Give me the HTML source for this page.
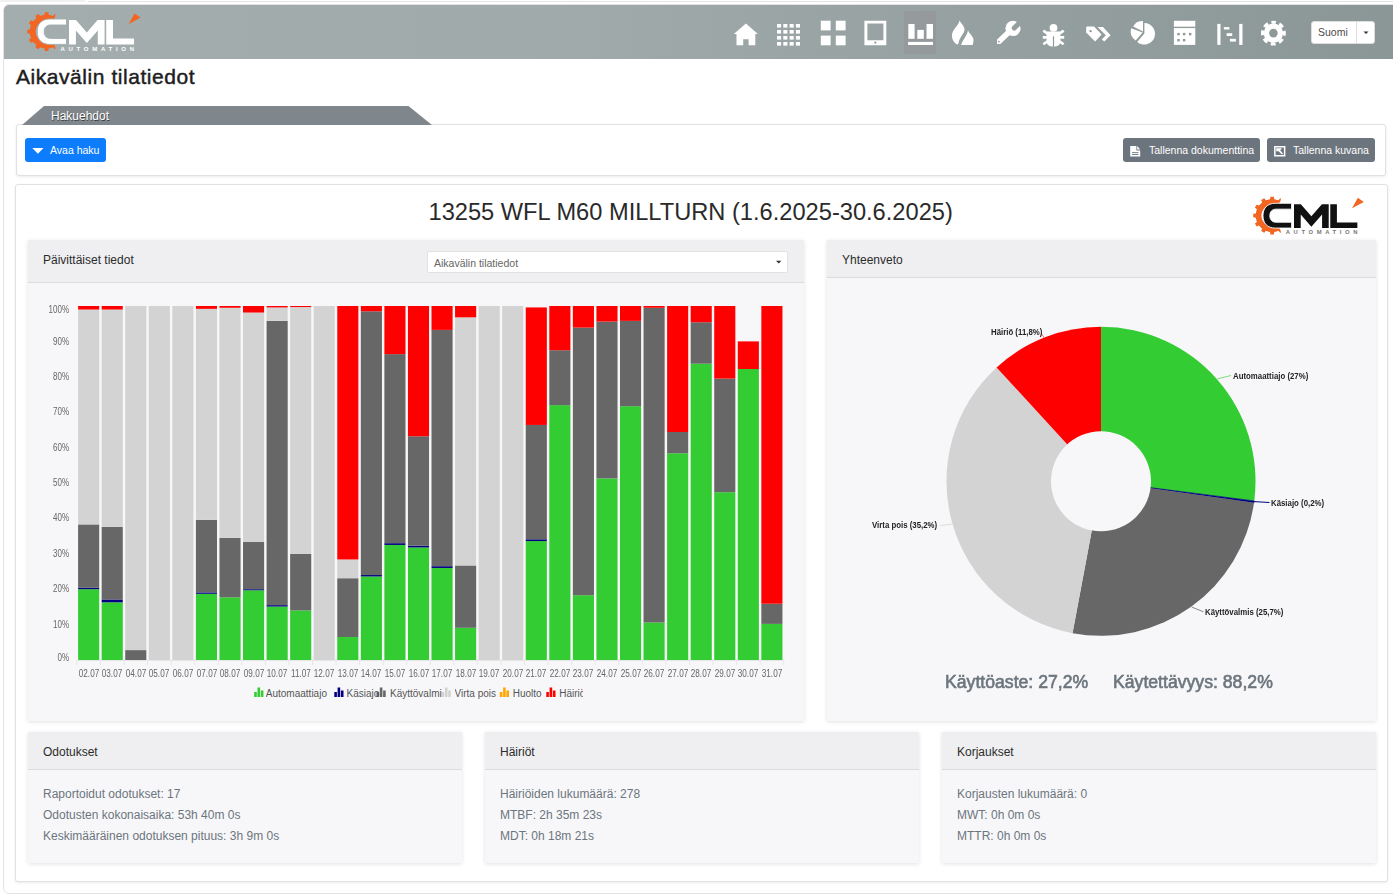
<!DOCTYPE html>
<html><head><meta charset="utf-8"><style>
*{box-sizing:border-box;margin:0;padding:0}
html,body{width:1393px;height:896px;overflow:hidden;background:#fff;font-family:"Liberation Sans",sans-serif;color:#212529}
.abs{position:absolute}
#frame{position:absolute;left:3px;top:4px;width:1400px;height:890px;border:1px solid #e3e3e3;border-radius:6px}
#topl{position:absolute;left:88px;top:1px;width:1305px;height:1px;background:#e4e4e4}
#topg{position:absolute;left:0;top:0;width:85px;height:2px;background:#f1f1f1}
#hdr{position:absolute;left:4px;top:5px;width:1389px;height:54px;background:linear-gradient(90deg,#a3adad 0%,#a0aaaa 40%,#8b9696 100%);border-radius:5px 0 0 0}
#title{position:absolute;left:16px;top:64.5px;font-size:21px;color:#1d1d1f;-webkit-text-stroke:0.45px #1d1d1f;letter-spacing:0.55px;white-space:nowrap}
#tab{position:absolute;z-index:2;left:22px;top:106px;width:410px;height:19px;background:#80878c;clip-path:polygon(22px 0,386.5px 0,410px 19px,0 19px)}
#tabt{position:absolute;z-index:3;left:51px;top:109px;font-size:12px;color:#fff;text-shadow:0.6px 0.6px 0.6px rgba(0,0,0,.55)}
.card{position:absolute;background:#fff;border:1px solid #dfe1e4;border-radius:3px;box-shadow:0 1px 3px rgba(0,0,0,.08)}
.btn{position:absolute;height:24px;border-radius:3px;color:#fff;font-size:10.5px;line-height:24px;white-space:nowrap}
.sub{position:absolute;background:#f7f7f9;box-shadow:0 1px 4px rgba(0,0,0,.12)}
.subh{position:absolute;left:0;top:0;right:0;background:#efeff1;border-bottom:1px solid #dcdcdf}
.subt{position:absolute;font-size:12px;color:#2b2b2b;white-space:nowrap}
.line{position:absolute;font-size:12px;color:#6c757d;white-space:nowrap}
.ylab{position:absolute;width:40px;text-align:right;font-size:10px;color:#666;left:28.7px;transform:scaleX(0.8);transform-origin:100% 50%}
.xlab{position:absolute;font-size:10px;color:#666;width:30px;text-align:center;top:668.3px;transform:scaleX(0.816)}
.plab{position:absolute;font-size:9px;font-weight:bold;color:#222;white-space:nowrap;transform:scaleX(0.87);transform-origin:0 50%}
.leg{position:absolute;font-size:10px;color:#555;white-space:nowrap;top:688px;overflow:hidden}
</style></head><body>
<div id="topg"></div><div id="topl"></div><div id="frame"></div>
<div id="hdr"></div>
<div id="title">Aikavälin tilatiedot</div>
<div id="tab"></div>
<div id="tabt">Hakuehdot</div>
<div class="card" style="left:16px;top:124px;width:1370px;height:52px"></div>
<div class="btn" style="left:25px;top:138px;width:81px;background:#0d7dfd;padding-left:25px">Avaa haku</div>
<div class="btn" style="left:1123px;top:138px;width:137px;background:#6c757d;padding-left:26px">Tallenna dokumenttina</div>
<div class="btn" style="left:1267px;top:138px;width:108px;background:#6c757d;padding-left:26px">Tallenna kuvana</div>
<div class="card" style="left:15px;top:184px;width:1373px;height:698px"></div>
<div class="abs" style="left:428.5px;top:199px;font-size:23.65px;color:#2a2a2a;white-space:nowrap">13255 WFL M60 MILLTURN (1.6.2025-30.6.2025)</div>
<div class="sub" style="left:28px;top:240px;width:776px;height:481px"><div class="subh" style="height:43px"></div></div>
<div class="subt" style="left:43px;top:253px">Päivittäiset tiedot</div>
<div class="abs" style="left:427px;top:251px;width:361px;height:22px;background:#fff;border:1px solid #e2e2e2;border-radius:2px;font-size:10.5px;color:#666;padding:5px 0 0 6px;white-space:nowrap">Aikavälin tilatiedot</div>
<div class="sub" style="left:827px;top:240px;width:549px;height:481px"><div class="subh" style="height:38px"></div></div>
<div class="subt" style="left:842px;top:253px">Yhteenveto</div>
<div class="sub" style="left:28px;top:732px;width:434px;height:131px"><div class="subh" style="height:38px"></div></div>
<div class="subt" style="left:43px;top:745px">Odotukset</div>
<div class="line" style="left:43px;top:787px">Raportoidut odotukset: 17</div>
<div class="line" style="left:43px;top:808px">Odotusten kokonaisaika: 53h 40m 0s</div>
<div class="line" style="left:43px;top:829px">Keskimääräinen odotuksen pituus: 3h 9m 0s</div>
<div class="sub" style="left:485px;top:732px;width:434px;height:131px"><div class="subh" style="height:38px"></div></div>
<div class="subt" style="left:500px;top:745px">Häiriöt</div>
<div class="line" style="left:500px;top:787px">Häiriöiden lukumäärä: 278</div>
<div class="line" style="left:500px;top:808px">MTBF: 2h 35m 23s</div>
<div class="line" style="left:500px;top:829px">MDT: 0h 18m 21s</div>
<div class="sub" style="left:942px;top:732px;width:434px;height:131px"><div class="subh" style="height:38px"></div></div>
<div class="subt" style="left:957px;top:745px">Korjaukset</div>
<div class="line" style="left:957px;top:787px">Korjausten lukumäärä: 0</div>
<div class="line" style="left:957px;top:808px">MWT: 0h 0m 0s</div>
<div class="line" style="left:957px;top:829px">MTTR: 0h 0m 0s</div>
<div class="abs" style="left:1311px;top:21px;width:64px;height:23px;background:#fff;border-radius:3px;border:1px solid #ddd"></div>
<div class="abs" style="left:1356px;top:22px;width:1px;height:21px;background:#ddd"></div>
<div class="abs" style="left:1318px;top:26px;font-size:10.5px;color:#4a4a4a">Suomi</div>
<svg class="abs" style="left:0;top:0" width="1393" height="896">
<path d="M55.05,46.24 L55.67,48.86 L54.78,49.30 L53.07,47.21 L53.07,47.21 L50.97,47.92 L48.81,48.36 L48.81,48.36 L48.37,51.02 L44.83,51.02 L44.39,48.36 L44.39,48.36 L42.23,47.92 L40.13,47.21 L40.13,47.21 L38.42,49.30 L35.36,47.53 L36.31,45.01 L36.31,45.01 L34.65,43.55 L33.19,41.89 L33.19,41.89 L30.67,42.84 L28.90,39.78 L30.99,38.07 L30.99,38.07 L30.28,35.97 L29.84,33.81 L29.84,33.81 L27.18,33.37 L27.18,29.83 L29.84,29.39 L29.84,29.39 L30.28,27.23 L30.99,25.13 L30.99,25.13 L28.90,23.42 L30.67,20.36 L33.19,21.31 L33.19,21.31 L34.65,19.65 L36.31,18.19 L36.31,18.19 L35.36,15.67 L38.42,13.90 L40.13,15.99 L40.13,15.99 L42.23,15.28 L44.39,14.84 L44.39,14.84 L44.83,12.18 L48.37,12.18 L48.81,14.84 L48.81,14.84 L50.97,15.28 L53.07,15.99 L53.07,15.99 L54.78,13.90 L55.67,14.34 L55.05,16.96 L52.10,22.07 L50.36,21.26 L48.51,20.77 L46.60,20.60 L44.69,20.77 L42.84,21.26 L41.10,22.07 L39.53,23.17 L38.17,24.53 L37.07,26.10 L36.26,27.84 L35.77,29.69 L35.60,31.60 L35.77,33.51 L36.26,35.36 L37.07,37.10 L38.17,38.67 L39.53,40.03 L41.10,41.13 L42.84,41.94 L44.69,42.43 L46.60,42.60 L48.51,42.43 L50.36,41.94 L52.10,41.13 Z" fill="#f26522"/>
<path d="M66.5,19 L50,19 C41.5,19 37.2,24 37.2,31.7 C37.2,39.4 41.5,44.4 50,44.4 L66.5,44.4 L66.5,38.4 L50.5,38.4 C46.5,38.4 44.2,35.8 44.2,31.7 C44.2,27.6 46.5,25 50.5,25 L66.5,25 Z" fill="#fff" stroke="#a2acac" stroke-width="0.9"/>
<path d="M69,44.4 L69,19.9 L76,19.9 L86.8,32.4 L97.6,19.9 L104.6,19.9 L104.6,44.4 L97.8,44.4 L97.8,30.5 L86.8,43 L75.9,30.5 L75.9,44.4 Z" fill="#fff"/>
<path d="M106.2,19.9 L113,19.9 L113,38.6 L134,38.6 L134,44.4 L106.2,44.4 Z" fill="#fff"/>
<path d="M128.5,24.2 L134.5,13.4 L140.6,17.6 Z" fill="#f26522"/>
<text x="60.5" y="50.8" font-family="Liberation Sans" font-weight="bold" font-size="6" fill="#fff" textLength="73.5" lengthAdjust="spacing">AUTOMATION</text>
<g transform="translate(1263,203.3) scale(0.975) translate(-37.2,-19)"><path d="M55.05,46.24 L55.67,48.86 L54.78,49.30 L53.07,47.21 L53.07,47.21 L50.97,47.92 L48.81,48.36 L48.81,48.36 L48.37,51.02 L44.83,51.02 L44.39,48.36 L44.39,48.36 L42.23,47.92 L40.13,47.21 L40.13,47.21 L38.42,49.30 L35.36,47.53 L36.31,45.01 L36.31,45.01 L34.65,43.55 L33.19,41.89 L33.19,41.89 L30.67,42.84 L28.90,39.78 L30.99,38.07 L30.99,38.07 L30.28,35.97 L29.84,33.81 L29.84,33.81 L27.18,33.37 L27.18,29.83 L29.84,29.39 L29.84,29.39 L30.28,27.23 L30.99,25.13 L30.99,25.13 L28.90,23.42 L30.67,20.36 L33.19,21.31 L33.19,21.31 L34.65,19.65 L36.31,18.19 L36.31,18.19 L35.36,15.67 L38.42,13.90 L40.13,15.99 L40.13,15.99 L42.23,15.28 L44.39,14.84 L44.39,14.84 L44.83,12.18 L48.37,12.18 L48.81,14.84 L48.81,14.84 L50.97,15.28 L53.07,15.99 L53.07,15.99 L54.78,13.90 L55.67,14.34 L55.05,16.96 L52.10,22.07 L50.36,21.26 L48.51,20.77 L46.60,20.60 L44.69,20.77 L42.84,21.26 L41.10,22.07 L39.53,23.17 L38.17,24.53 L37.07,26.10 L36.26,27.84 L35.77,29.69 L35.60,31.60 L35.77,33.51 L36.26,35.36 L37.07,37.10 L38.17,38.67 L39.53,40.03 L41.10,41.13 L42.84,41.94 L44.69,42.43 L46.60,42.60 L48.51,42.43 L50.36,41.94 L52.10,41.13 Z" fill="#f26522"/>
<path d="M66.5,19 L50,19 C41.5,19 37.2,24 37.2,31.7 C37.2,39.4 41.5,44.4 50,44.4 L66.5,44.4 L66.5,38.4 L50.5,38.4 C46.5,38.4 44.2,35.8 44.2,31.7 C44.2,27.6 46.5,25 50.5,25 L66.5,25 Z" fill="#111" stroke="#fff" stroke-width="0.9"/>
<path d="M69,44.4 L69,19.9 L76,19.9 L86.8,32.4 L97.6,19.9 L104.6,19.9 L104.6,44.4 L97.8,44.4 L97.8,30.5 L86.8,43 L75.9,30.5 L75.9,44.4 Z" fill="#111"/>
<path d="M106.2,19.9 L113,19.9 L113,38.6 L134,38.6 L134,44.4 L106.2,44.4 Z" fill="#111"/>
<path d="M128.5,24.2 L134.5,13.4 L140.6,17.6 Z" fill="#f26522"/>
<text x="60.5" y="50.8" font-family="Liberation Sans" font-weight="bold" font-size="6" fill="#777" textLength="73.5" lengthAdjust="spacing">AUTOMATION</text></g>
<rect x="904" y="11" width="32" height="43" fill="#948f93" opacity="0.4"/>
<path d="M733.8,34 L745.9,23.6 L757.9,34 L755.3,34 L755.3,45.3 L748.6,45.3 L748.6,39.2 L743.2,39.2 L743.2,45.3 L736.5,45.3 L736.5,34 Z" fill="#fff"/>
<rect x="777.0" y="24.0" width="4.1" height="3.6" fill="#fff"/>
<rect x="777.0" y="30.0" width="4.1" height="3.6" fill="#fff"/>
<rect x="777.0" y="36.0" width="4.1" height="3.6" fill="#fff"/>
<rect x="777.0" y="42.0" width="4.1" height="3.6" fill="#fff"/>
<rect x="783.3" y="24.0" width="4.1" height="3.6" fill="#fff"/>
<rect x="783.3" y="30.0" width="4.1" height="3.6" fill="#fff"/>
<rect x="783.3" y="36.0" width="4.1" height="3.6" fill="#fff"/>
<rect x="783.3" y="42.0" width="4.1" height="3.6" fill="#fff"/>
<rect x="789.6" y="24.0" width="4.1" height="3.6" fill="#fff"/>
<rect x="789.6" y="30.0" width="4.1" height="3.6" fill="#fff"/>
<rect x="789.6" y="36.0" width="4.1" height="3.6" fill="#fff"/>
<rect x="789.6" y="42.0" width="4.1" height="3.6" fill="#fff"/>
<rect x="795.9" y="24.0" width="4.1" height="3.6" fill="#fff"/>
<rect x="795.9" y="30.0" width="4.1" height="3.6" fill="#fff"/>
<rect x="795.9" y="36.0" width="4.1" height="3.6" fill="#fff"/>
<rect x="795.9" y="42.0" width="4.1" height="3.6" fill="#fff"/>
<rect x="820.8" y="20.7" width="9.8" height="9.7" fill="#fff"/>
<rect x="835.8" y="20.7" width="9.8" height="9.7" fill="#fff"/>
<rect x="820.8" y="35.6" width="9.8" height="9.7" fill="#fff"/>
<rect x="835.8" y="35.6" width="9.8" height="9.7" fill="#fff"/>
<path d="M864.4,20.7 L886.3,20.7 L886.3,45.3 L864.4,45.3 Z M867.4,23.5 L867.4,40.3 L883.4,40.3 L883.4,23.5 Z" fill="#fff" fill-rule="evenodd"/>
<circle cx="875.4" cy="42.6" r="1.1" fill="#8d9898"/>
<rect x="908.3" y="24" width="6.3" height="14.8" fill="#fff"/><rect x="917.3" y="29.9" width="6.5" height="8.9" fill="#fff"/><rect x="926.5" y="24" width="6.5" height="14.8" fill="#fff"/><rect x="908.1" y="41.9" width="24.9" height="3.1" fill="#fff"/>
<path d="M959.4,20.5 C961,23.5 964.8,26 964.5,30 C964.3,33.5 959.5,37 958.5,43.3 L957.6,44.8 C954,43 951.9,39.5 951.9,35.7 C951.9,29.5 958.8,26 959.4,20.5 Z" fill="#fff"/>
<path d="M968,29.9 C968.5,33.5 973.5,35.5 973.5,40 C973.5,42 973,44 972.6,44.9 L961.1,44.9 C962.5,40 967.6,35 968,29.9 Z" fill="#fff"/>
<mask id="wm"><rect x="990" y="15" width="40" height="35" fill="#fff"/><rect x="1010.6" y="17" width="5" height="13" rx="2.5" fill="#000" transform="rotate(45 1013 29.2)"/><circle cx="998.9" cy="41.6" r="0.95" fill="#000"/></mask>
<g mask="url(#wm)" fill="#fff"><line x1="999" y1="41.6" x2="1010" y2="31" stroke="#fff" stroke-width="5.6" stroke-linecap="round"/><circle cx="1013" cy="28.4" r="7.6"/></g>
<circle cx="1053.5" cy="27.8" r="3.9" fill="#fff"/>
<path d="M1046.6,31.6 L1060.4,31.6 L1060.4,41.5 C1060.4,45 1057.5,46.6 1053.5,46.6 C1049.5,46.6 1046.6,45 1046.6,41.5 Z" fill="#fff"/>
<path d="M1048,34 L1043.3,30.6 M1059,34 L1063.7,30.6 M1042.8,37.4 L1064.2,37.4 M1048,41 L1043.3,44.2 M1059,41 L1063.7,44.2" stroke="#fff" stroke-width="2.6" fill="none"/>
<line x1="1053.5" y1="36.4" x2="1053.5" y2="46.8" stroke="#8d9898" stroke-width="1.2"/>
<path d="M1086.2,27.4 Q1086.2,26.4 1087.2,26.4 L1094,26.6 L1101.6,34.4 L1095.1,41.5 L1086.2,32.6 Z" fill="#fff"/>
<circle cx="1090.6" cy="31.1" r="1.2" fill="#8d9898"/>
<path d="M1097.6,27 L1103,27 L1110.6,35.3 L1104.3,41.6 L1101.8,39.4 L1105.8,35.3 Z" fill="#fff"/>
<path d="M1144.4,23 L1144.4,33.6 L1137.2,42 A10.8,10.8 0 1 0 1144.4,23 Z" fill="#fff"/>
<path d="M1142.6,32.4 L1135.6,40.6 A10.8,10.8 0 0 1 1131.2,28.2 Z" fill="#fff"/>
<path d="M1143,21 L1143,31.6 L1133.2,26.4 A10.8,10.8 0 0 1 1143,21 Z" fill="#fff"/>
<rect x="1173.9" y="20.8" width="21.4" height="5.9" fill="#fff"/>
<path d="M1173.9,28.1 L1195.3,28.1 L1195.3,44.9 L1173.9,44.9 Z" fill="#fff"/>
<rect x="1177.3" y="32.9" width="2.4" height="2.4" fill="#8d9898"/>
<rect x="1182.8999999999999" y="32.9" width="2.4" height="2.4" fill="#8d9898"/>
<rect x="1189.0" y="32.9" width="2.4" height="2.4" fill="#8d9898"/>
<rect x="1177.3" y="39.0" width="2.4" height="2.4" fill="#8d9898"/>
<rect x="1182.8999999999999" y="39.0" width="2.4" height="2.4" fill="#8d9898"/>
<rect x="1217.3" y="23.9" width="3.2" height="21" fill="#fff"/><rect x="1239.2" y="23.9" width="3.3" height="21" fill="#fff"/>
<rect x="1223.8" y="27.1" width="5.6" height="2.4" fill="#fff"/><rect x="1226.6" y="33.2" width="5.6" height="2.8" fill="#fff"/><rect x="1229.9" y="38.8" width="6" height="2.8" fill="#fff"/>
<mask id="gm"><rect x="1255" y="15" width="40" height="40" fill="#fff"/><circle cx="1273.4" cy="33.1" r="4.3" fill="#000"/></mask>
<g mask="url(#gm)"><circle cx="1273.4" cy="33.1" r="9.7" fill="#fff"/><circle cx="1273.4" cy="33.1" r="10.9" fill="none" stroke="#fff" stroke-width="3" stroke-dasharray="4.9 3.66" stroke-dashoffset="2.45" transform="rotate(-90 1273.4 33.1)"/></g>
<path d="M32.3,148 L43.5,148 L37.9,153.8 Z" fill="#fff"/>
<path d="M1130.2,146.1 L1136.4,146.1 L1136.4,150.4 L1140.2,150.4 L1140.2,156.4 L1130.2,156.4 Z M1137.2,146.1 L1140.2,149.4 L1137.2,149.4 Z" fill="#fff"/>
<rect x="1132" y="152.2" width="6.5" height="0.9" fill="#6c757d"/><rect x="1132" y="154" width="6.5" height="0.9" fill="#6c757d"/>
<path d="M1274.1,146.1 L1285.4,146.1 L1285.4,156.4 L1274.1,156.4 Z M1275.6,147.6 L1275.6,154.9 L1283.9,154.9 L1283.9,147.6 Z" fill="#fff" fill-rule="evenodd"/>
<path d="M1276.2,148.3 L1282,148.3 L1280.2,150.3 L1283.2,153.9 L1281.6,154.2 L1278.6,151.2 L1276.2,151.2 Z" fill="#fff"/>
<path d="M776,260.8 L781.4,260.8 L778.7,263.4 Z" fill="#333"/>
<path d="M1363.5,31.6 L1368.5,31.6 L1366,34 Z" fill="#333"/>
<line x1="76.9" y1="660.5" x2="783.6999999999999" y2="660.5" stroke="#e6e6e6" stroke-width="1"/>
<line x1="76.90" y1="660.0" x2="76.90" y2="665.0" stroke="#e6e6e6" stroke-width="1"/>
<line x1="100.46" y1="660.0" x2="100.46" y2="665.0" stroke="#e6e6e6" stroke-width="1"/>
<line x1="124.02" y1="660.0" x2="124.02" y2="665.0" stroke="#e6e6e6" stroke-width="1"/>
<line x1="147.58" y1="660.0" x2="147.58" y2="665.0" stroke="#e6e6e6" stroke-width="1"/>
<line x1="171.14" y1="660.0" x2="171.14" y2="665.0" stroke="#e6e6e6" stroke-width="1"/>
<line x1="194.70" y1="660.0" x2="194.70" y2="665.0" stroke="#e6e6e6" stroke-width="1"/>
<line x1="218.26" y1="660.0" x2="218.26" y2="665.0" stroke="#e6e6e6" stroke-width="1"/>
<line x1="241.82" y1="660.0" x2="241.82" y2="665.0" stroke="#e6e6e6" stroke-width="1"/>
<line x1="265.38" y1="660.0" x2="265.38" y2="665.0" stroke="#e6e6e6" stroke-width="1"/>
<line x1="288.94" y1="660.0" x2="288.94" y2="665.0" stroke="#e6e6e6" stroke-width="1"/>
<line x1="312.50" y1="660.0" x2="312.50" y2="665.0" stroke="#e6e6e6" stroke-width="1"/>
<line x1="336.06" y1="660.0" x2="336.06" y2="665.0" stroke="#e6e6e6" stroke-width="1"/>
<line x1="359.62" y1="660.0" x2="359.62" y2="665.0" stroke="#e6e6e6" stroke-width="1"/>
<line x1="383.18" y1="660.0" x2="383.18" y2="665.0" stroke="#e6e6e6" stroke-width="1"/>
<line x1="406.74" y1="660.0" x2="406.74" y2="665.0" stroke="#e6e6e6" stroke-width="1"/>
<line x1="430.30" y1="660.0" x2="430.30" y2="665.0" stroke="#e6e6e6" stroke-width="1"/>
<line x1="453.86" y1="660.0" x2="453.86" y2="665.0" stroke="#e6e6e6" stroke-width="1"/>
<line x1="477.42" y1="660.0" x2="477.42" y2="665.0" stroke="#e6e6e6" stroke-width="1"/>
<line x1="500.98" y1="660.0" x2="500.98" y2="665.0" stroke="#e6e6e6" stroke-width="1"/>
<line x1="524.54" y1="660.0" x2="524.54" y2="665.0" stroke="#e6e6e6" stroke-width="1"/>
<line x1="548.10" y1="660.0" x2="548.10" y2="665.0" stroke="#e6e6e6" stroke-width="1"/>
<line x1="571.66" y1="660.0" x2="571.66" y2="665.0" stroke="#e6e6e6" stroke-width="1"/>
<line x1="595.22" y1="660.0" x2="595.22" y2="665.0" stroke="#e6e6e6" stroke-width="1"/>
<line x1="618.78" y1="660.0" x2="618.78" y2="665.0" stroke="#e6e6e6" stroke-width="1"/>
<line x1="642.34" y1="660.0" x2="642.34" y2="665.0" stroke="#e6e6e6" stroke-width="1"/>
<line x1="665.90" y1="660.0" x2="665.90" y2="665.0" stroke="#e6e6e6" stroke-width="1"/>
<line x1="689.46" y1="660.0" x2="689.46" y2="665.0" stroke="#e6e6e6" stroke-width="1"/>
<line x1="713.02" y1="660.0" x2="713.02" y2="665.0" stroke="#e6e6e6" stroke-width="1"/>
<line x1="736.58" y1="660.0" x2="736.58" y2="665.0" stroke="#e6e6e6" stroke-width="1"/>
<line x1="760.14" y1="660.0" x2="760.14" y2="665.0" stroke="#e6e6e6" stroke-width="1"/>
<line x1="783.70" y1="660.0" x2="783.70" y2="665.0" stroke="#e6e6e6" stroke-width="1"/>
<rect x="78.10" y="589.20" width="21.11" height="70.80" fill="#33cc33"/>
<rect x="78.10" y="587.78" width="21.11" height="1.42" fill="#000080"/>
<rect x="78.10" y="524.42" width="21.11" height="63.37" fill="#676767"/>
<rect x="78.10" y="309.54" width="21.11" height="214.88" fill="#d3d3d3"/>
<rect x="78.10" y="306.00" width="21.11" height="3.54" fill="#ff0000"/>
<rect x="101.66" y="602.30" width="21.11" height="57.70" fill="#33cc33"/>
<rect x="101.66" y="599.47" width="21.11" height="2.83" fill="#000080"/>
<rect x="101.66" y="526.90" width="21.11" height="72.57" fill="#676767"/>
<rect x="101.66" y="309.54" width="21.11" height="217.36" fill="#d3d3d3"/>
<rect x="101.66" y="306.00" width="21.11" height="3.54" fill="#ff0000"/>
<rect x="125.22" y="650.09" width="21.11" height="9.91" fill="#676767"/>
<rect x="125.22" y="306.00" width="21.11" height="344.09" fill="#d3d3d3"/>
<rect x="148.78" y="306.00" width="21.11" height="354.00" fill="#d3d3d3"/>
<rect x="172.34" y="306.00" width="21.11" height="354.00" fill="#d3d3d3"/>
<rect x="195.90" y="593.80" width="21.11" height="66.20" fill="#33cc33"/>
<rect x="195.90" y="592.39" width="21.11" height="1.42" fill="#000080"/>
<rect x="195.90" y="519.82" width="21.11" height="72.57" fill="#676767"/>
<rect x="195.90" y="308.83" width="21.11" height="210.98" fill="#d3d3d3"/>
<rect x="195.90" y="306.00" width="21.11" height="2.83" fill="#ff0000"/>
<rect x="219.46" y="597.34" width="21.11" height="62.66" fill="#33cc33"/>
<rect x="219.46" y="537.87" width="21.11" height="59.47" fill="#676767"/>
<rect x="219.46" y="307.77" width="21.11" height="230.10" fill="#d3d3d3"/>
<rect x="219.46" y="306.00" width="21.11" height="1.77" fill="#ff0000"/>
<rect x="243.02" y="590.26" width="21.11" height="69.74" fill="#33cc33"/>
<rect x="243.02" y="589.20" width="21.11" height="1.06" fill="#000080"/>
<rect x="243.02" y="541.76" width="21.11" height="47.44" fill="#676767"/>
<rect x="243.02" y="312.55" width="21.11" height="229.21" fill="#d3d3d3"/>
<rect x="243.02" y="306.00" width="21.11" height="6.55" fill="#ff0000"/>
<rect x="266.58" y="606.55" width="21.11" height="53.45" fill="#33cc33"/>
<rect x="266.58" y="605.13" width="21.11" height="1.42" fill="#000080"/>
<rect x="266.58" y="320.87" width="21.11" height="284.26" fill="#676767"/>
<rect x="266.58" y="307.42" width="21.11" height="13.45" fill="#d3d3d3"/>
<rect x="266.58" y="306.00" width="21.11" height="1.42" fill="#ff0000"/>
<rect x="290.14" y="610.44" width="21.11" height="49.56" fill="#33cc33"/>
<rect x="290.14" y="553.80" width="21.11" height="56.64" fill="#676767"/>
<rect x="290.14" y="307.06" width="21.11" height="246.74" fill="#d3d3d3"/>
<rect x="290.14" y="306.00" width="21.11" height="1.06" fill="#ff0000"/>
<rect x="313.70" y="306.00" width="21.11" height="354.00" fill="#d3d3d3"/>
<rect x="337.26" y="636.99" width="21.11" height="23.01" fill="#33cc33"/>
<rect x="337.26" y="578.23" width="21.11" height="58.76" fill="#676767"/>
<rect x="337.26" y="559.46" width="21.11" height="18.76" fill="#d3d3d3"/>
<rect x="337.26" y="306.00" width="21.11" height="253.46" fill="#ff0000"/>
<rect x="360.82" y="576.46" width="21.11" height="83.54" fill="#33cc33"/>
<rect x="360.82" y="575.04" width="21.11" height="1.42" fill="#000080"/>
<rect x="360.82" y="311.31" width="21.11" height="263.73" fill="#676767"/>
<rect x="360.82" y="306.00" width="21.11" height="5.31" fill="#ff0000"/>
<rect x="384.38" y="544.95" width="21.11" height="115.05" fill="#33cc33"/>
<rect x="384.38" y="543.18" width="21.11" height="1.77" fill="#000080"/>
<rect x="384.38" y="354.14" width="21.11" height="189.04" fill="#676767"/>
<rect x="384.38" y="306.00" width="21.11" height="48.14" fill="#ff0000"/>
<rect x="407.94" y="547.43" width="21.11" height="112.57" fill="#33cc33"/>
<rect x="407.94" y="545.66" width="21.11" height="1.77" fill="#000080"/>
<rect x="407.94" y="436.27" width="21.11" height="109.39" fill="#676767"/>
<rect x="407.94" y="306.00" width="21.11" height="130.27" fill="#ff0000"/>
<rect x="431.50" y="567.96" width="21.11" height="92.04" fill="#33cc33"/>
<rect x="431.50" y="566.19" width="21.11" height="1.77" fill="#000080"/>
<rect x="431.50" y="329.90" width="21.11" height="236.29" fill="#676767"/>
<rect x="431.50" y="306.00" width="21.11" height="23.90" fill="#ff0000"/>
<rect x="455.06" y="627.79" width="21.11" height="32.21" fill="#33cc33"/>
<rect x="455.06" y="565.48" width="21.11" height="62.30" fill="#676767"/>
<rect x="455.06" y="317.33" width="21.11" height="248.15" fill="#d3d3d3"/>
<rect x="455.06" y="306.00" width="21.11" height="11.33" fill="#ff0000"/>
<rect x="478.62" y="306.00" width="21.11" height="354.00" fill="#d3d3d3"/>
<rect x="502.18" y="306.00" width="21.11" height="354.00" fill="#d3d3d3"/>
<rect x="525.74" y="541.06" width="21.11" height="118.94" fill="#33cc33"/>
<rect x="525.74" y="539.29" width="21.11" height="1.77" fill="#000080"/>
<rect x="525.74" y="424.94" width="21.11" height="114.34" fill="#676767"/>
<rect x="525.74" y="307.42" width="21.11" height="117.53" fill="#ff0000"/>
<rect x="549.30" y="405.12" width="21.11" height="254.88" fill="#33cc33"/>
<rect x="549.30" y="350.25" width="21.11" height="54.87" fill="#676767"/>
<rect x="549.30" y="306.00" width="21.11" height="44.25" fill="#ff0000"/>
<rect x="572.86" y="595.22" width="21.11" height="64.78" fill="#33cc33"/>
<rect x="572.86" y="327.59" width="21.11" height="267.62" fill="#676767"/>
<rect x="572.86" y="306.00" width="21.11" height="21.59" fill="#ff0000"/>
<rect x="596.42" y="478.40" width="21.11" height="181.60" fill="#33cc33"/>
<rect x="596.42" y="321.58" width="21.11" height="156.82" fill="#676767"/>
<rect x="596.42" y="306.00" width="21.11" height="15.58" fill="#ff0000"/>
<rect x="619.98" y="406.18" width="21.11" height="253.82" fill="#33cc33"/>
<rect x="619.98" y="320.87" width="21.11" height="85.31" fill="#676767"/>
<rect x="619.98" y="306.00" width="21.11" height="14.87" fill="#ff0000"/>
<rect x="643.54" y="622.48" width="21.11" height="37.52" fill="#33cc33"/>
<rect x="643.54" y="307.77" width="21.11" height="314.71" fill="#676767"/>
<rect x="643.54" y="306.00" width="21.11" height="1.77" fill="#ff0000"/>
<rect x="667.10" y="453.26" width="21.11" height="206.74" fill="#33cc33"/>
<rect x="667.10" y="432.02" width="21.11" height="21.24" fill="#676767"/>
<rect x="667.10" y="306.00" width="21.11" height="126.02" fill="#ff0000"/>
<rect x="690.66" y="363.70" width="21.11" height="296.30" fill="#33cc33"/>
<rect x="690.66" y="322.28" width="21.11" height="41.42" fill="#676767"/>
<rect x="690.66" y="306.00" width="21.11" height="16.28" fill="#ff0000"/>
<rect x="714.22" y="492.20" width="21.11" height="167.80" fill="#33cc33"/>
<rect x="714.22" y="378.57" width="21.11" height="113.63" fill="#676767"/>
<rect x="714.22" y="306.00" width="21.11" height="72.57" fill="#ff0000"/>
<rect x="737.78" y="369.01" width="21.11" height="290.99" fill="#33cc33"/>
<rect x="737.78" y="341.40" width="21.11" height="27.61" fill="#ff0000"/>
<rect x="761.34" y="623.89" width="21.11" height="36.11" fill="#33cc33"/>
<rect x="761.34" y="603.71" width="21.11" height="20.18" fill="#676767"/>
<rect x="761.34" y="306.00" width="21.11" height="297.71" fill="#ff0000"/>
<rect x="254.2" y="692" width="2.6" height="5" fill="#33cc33"/><rect x="257.5" y="687.5" width="2.6" height="9.5" fill="#33cc33"/><rect x="260.8" y="690.5" width="2.6" height="6.5" fill="#33cc33"/>
<rect x="334.3" y="692" width="2.6" height="5" fill="#000080"/><rect x="337.6" y="687.5" width="2.6" height="9.5" fill="#000080"/><rect x="340.90000000000003" y="690.5" width="2.6" height="6.5" fill="#000080"/>
<rect x="376.5" y="692" width="2.6" height="5" fill="#676767"/><rect x="379.8" y="687.5" width="2.6" height="9.5" fill="#676767"/><rect x="383.1" y="690.5" width="2.6" height="6.5" fill="#676767"/>
<rect x="441.6" y="692" width="2.6" height="5" fill="#d3d3d3"/><rect x="444.90000000000003" y="687.5" width="2.6" height="9.5" fill="#d3d3d3"/><rect x="448.20000000000005" y="690.5" width="2.6" height="6.5" fill="#d3d3d3"/>
<rect x="499.8" y="692" width="2.6" height="5" fill="#ffa500"/><rect x="503.1" y="687.5" width="2.6" height="9.5" fill="#ffa500"/><rect x="506.40000000000003" y="690.5" width="2.6" height="6.5" fill="#ffa500"/>
<rect x="546.3" y="692" width="2.6" height="5" fill="#ff0000"/><rect x="549.5999999999999" y="687.5" width="2.6" height="9.5" fill="#ff0000"/><rect x="552.9" y="690.5" width="2.6" height="6.5" fill="#ff0000"/>
<path d="M1101,481.3 L1101.00,326.80 A154.5,154.5 0 0 1 1254.25,500.92 Z" fill="#33cc33"/>
<path d="M1101,481.3 L1254.25,500.92 A154.5,154.5 0 0 1 1253.99,502.85 Z" fill="#000080" stroke="#000080" stroke-width="0.6"/>
<path d="M1101,481.3 L1253.99,502.85 A154.5,154.5 0 0 1 1072.50,633.15 Z" fill="#676767"/>
<path d="M1101,481.3 L1072.50,633.15 A154.5,154.5 0 0 1 996.58,367.43 Z" fill="#d3d3d3"/>
<path d="M1101,481.3 L996.58,367.43 A154.5,154.5 0 0 1 1101.00,326.80 Z" fill="#ff0000"/>
<circle cx="1101" cy="481.3" r="50" fill="#f7f7f9"/>
<line x1="1217.5" y1="378.8" x2="1231" y2="375.5" stroke="#7fd97f" stroke-width="1"/>
<line x1="1254" y1="501.6" x2="1269.5" y2="502.5" stroke="#000080" stroke-width="1"/>
<line x1="1191.6" y1="607" x2="1203.5" y2="611.8" stroke="#888" stroke-width="1"/>
<line x1="940" y1="525.5" x2="951.9" y2="524.1" stroke="#ddd" stroke-width="1"/>
<line x1="1041" y1="333" x2="1044" y2="337.5" stroke="#ff6666" stroke-width="1"/>
</svg>
<div class="ylab" style="top:303.8px">100%</div>
<div class="ylab" style="top:335.8px">90%</div>
<div class="ylab" style="top:370.8px">80%</div>
<div class="ylab" style="top:405.8px">70%</div>
<div class="ylab" style="top:441.8px">60%</div>
<div class="ylab" style="top:476.8px">50%</div>
<div class="ylab" style="top:511.8px">40%</div>
<div class="ylab" style="top:547.8px">30%</div>
<div class="ylab" style="top:582.8px">20%</div>
<div class="ylab" style="top:618.8px">10%</div>
<div class="ylab" style="top:651.8px">0%</div>
<div class="xlab" style="left:73.7px">02.07</div>
<div class="xlab" style="left:97.2px">03.07</div>
<div class="xlab" style="left:120.8px">04.07</div>
<div class="xlab" style="left:144.4px">05.07</div>
<div class="xlab" style="left:167.9px">06.07</div>
<div class="xlab" style="left:191.5px">07.07</div>
<div class="xlab" style="left:215.0px">08.07</div>
<div class="xlab" style="left:238.6px">09.07</div>
<div class="xlab" style="left:262.2px">10.07</div>
<div class="xlab" style="left:285.7px">11.07</div>
<div class="xlab" style="left:309.3px">12.07</div>
<div class="xlab" style="left:332.8px">13.07</div>
<div class="xlab" style="left:356.4px">14.07</div>
<div class="xlab" style="left:380.0px">15.07</div>
<div class="xlab" style="left:403.5px">16.07</div>
<div class="xlab" style="left:427.1px">17.07</div>
<div class="xlab" style="left:450.6px">18.07</div>
<div class="xlab" style="left:474.2px">19.07</div>
<div class="xlab" style="left:497.8px">20.07</div>
<div class="xlab" style="left:521.3px">21.07</div>
<div class="xlab" style="left:544.9px">22.07</div>
<div class="xlab" style="left:568.4px">23.07</div>
<div class="xlab" style="left:592.0px">24.07</div>
<div class="xlab" style="left:615.6px">25.07</div>
<div class="xlab" style="left:639.1px">26.07</div>
<div class="xlab" style="left:662.7px">27.07</div>
<div class="xlab" style="left:686.2px">28.07</div>
<div class="xlab" style="left:709.8px">29.07</div>
<div class="xlab" style="left:733.4px">30.07</div>
<div class="xlab" style="left:756.9px">31.07</div>
<div class="leg" style="left:265.8px;width:70px">Automaattiajo</div>
<div class="leg" style="left:346.5px;width:34px">Käsiajo</div>
<div class="leg" style="left:390px;width:51.5px">Käyttövalmis</div>
<div class="leg" style="left:454.5px;width:60px">Virta pois</div>
<div class="leg" style="left:512.7px;width:60px">Huolto</div>
<div class="leg" style="left:559.2px;width:23.5px">Häiriö</div>
<div class="plab" style="left:991px;top:326.8px">Häiriö (11,8%)</div>
<div class="plab" style="left:1232.7px;top:370.5px">Automaattiajo (27%)</div>
<div class="plab" style="left:1271px;top:498.3px">Käsiajo (0,2%)</div>
<div class="plab" style="left:872.2px;top:520.3px">Virta pois (35,2%)</div>
<div class="plab" style="left:1205.3px;top:606.8px">Käyttövalmis (25,7%)</div>
<div class="abs" style="left:945px;top:672px;font-size:18px;color:#6c757d;-webkit-text-stroke:0.6px #6c757d;white-space:nowrap;transform:scaleX(0.98);transform-origin:0 50%">Käyttöaste: 27,2%</div>
<div class="abs" style="left:1113px;top:672px;font-size:18px;color:#6c757d;-webkit-text-stroke:0.6px #6c757d;white-space:nowrap;transform:scaleX(0.98);transform-origin:0 50%">Käytettävyys: 88,2%</div>
</body></html>
